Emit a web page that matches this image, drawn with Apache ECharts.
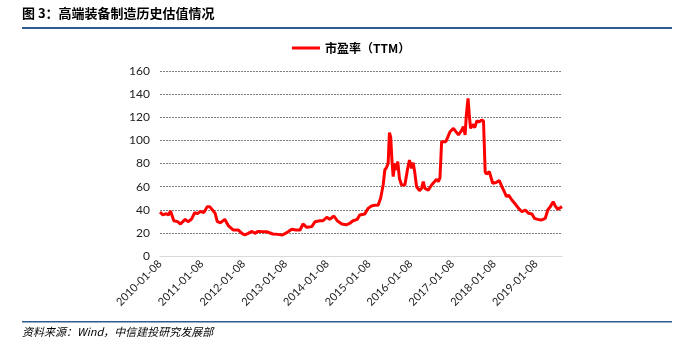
<!DOCTYPE html>
<html>
<head>
<meta charset="utf-8">
<script src="https://cdn.jsdelivr.net/npm/echarts@6/dist/echarts.min.js"></script>
<style>
html,body{margin:0;padding:0;background:#fff;}
#chart{width:696px;height:346px;}
</style>
</head>
<body>
<div id="chart"></div>
<script>
// Time in decimal years, PE (TTM) values
const times = [
  2010.02,2010.03,2010.09,2010.17,2010.22,2010.27,2010.35,2010.44,2010.51,2010.62,
  2010.69,2010.77,2010.85,2010.91,2010.99,2011.07,2011.15,2011.21,2011.29,2011.34,
  2011.39,2011.47,2011.57,2011.66,2011.77,2011.89,2011.98,2012.05,2012.13,2012.22,
  2012.29,2012.37,2012.49,2012.57,2012.61,2012.72,2012.84,2012.95,2013.05,2013.17,
  2013.27,2013.37,2013.44,2013.53,2013.65,2013.73,2013.84,2013.92,2014.01,2014.08,
  2014.18,2014.26,2014.37,2014.47,2014.56,2014.64,2014.74,2014.80,2014.92,2015.00,
  2015.08,2015.16,2015.24,2015.30,2015.36,2015.40,2015.44,2015.48,2015.51,2015.54,
  2015.57,2015.60,2015.64,2015.67,2015.71,2015.75,2015.80,2015.88,2015.94,2015.99,
  2016.04,2016.08,2016.12,2016.16,2016.23,2016.28,2016.32,2016.36,2016.44,2016.52,
  2016.56,2016.64,2016.68,2016.72,2016.76,2016.80,2016.86,2016.91,2016.96,2017.04,
  2017.10,2017.16,2017.23,2017.28,2017.32,2017.35,2017.39,2017.42,2017.45,2017.50,
  2017.55,2017.60,2017.66,2017.71,2017.76,2017.80,2017.83,2017.90,2017.98,2018.06,
  2018.14,2018.20,2018.26,2018.31,2018.36,2018.44,2018.52,2018.60,2018.68,2018.76,
  2018.84,2018.92,2018.98,2019.06,2019.14,2019.24,2019.30,2019.36,2019.43,2019.48,
  2019.54,2019.58,2019.64
];
const peValues = [
  38,38.3,35.5,36.6,35.5,39,30.5,29.7,27.7,31.7,
  29.7,31.7,37.5,36.6,38.6,37.5,42.7,42.7,39.2,36.9,
  29.7,28.8,31.7,26,22.5,22.5,19.6,18.2,19.6,21.3,
  19.6,21.3,21,21,19.6,19,18.7,18.2,20.2,23.1,
  22.5,22.5,27.7,24.8,25.4,29.7,30.5,30.5,33.5,31.7,
  34.6,30.5,27.7,27,28.3,30.5,31.7,35.5,36.3,41.2,
  43.2,44,44,50,61.4,74.4,76.5,80,106.7,103,
  83,68.6,80,74.4,81.6,67,61.4,61.4,74.4,83,
  75.8,80.7,71.5,60,56.5,58.5,64.3,58.5,57,61.4,
  60,66.3,64.3,67.5,98.9,100,98.9,103,107.5,110.4,
  107.5,104.7,108.2,111.9,104.7,122,136.4,122,110.4,113.8,
  111,116.8,116,117.6,116.8,72.9,70.8,72.9,62.9,63.5,
  65.2,60,55.6,51.3,52.7,48.4,45,41.2,38.3,39.8,
  36.9,36.3,32.6,31.7,31.1,32.6,39.8,42.7,47,43.2,
  40.4,40.4,42.7
];
const tickLabels = ['2010-01-08','2011-01-08','2012-01-08','2013-01-08','2014-01-08',
  '2015-01-08','2016-01-08','2017-01-08','2018-01-08','2019-01-08'];
const seriesName = '市盈率（TTM）';
const titleText = '图 3：高端装备制造历史估值情况';
const sourceText = '资料来源：Wind，中信建投研究发展部';

function yearToTs(t){
  const y = Math.floor(t);
  return Date.UTC(y,0,1) + (t - y) * 365.25 * 86400000;
}
const seriesData = times.map((t,i)=>[yearToTs(t), peValues[i]]);
const tickTs = tickLabels.map(s=>Date.parse(s+'T00:00:00Z'));
function fmtDate(v){
  const d = new Date(v);
  const p = n => (n<10?'0':'')+n;
  return d.getUTCFullYear()+'-'+p(d.getUTCMonth()+1)+'-'+p(d.getUTCDate());
}

const chart = echarts.init(document.getElementById('chart'));
chart.setOption({
  animation:false,
  backgroundColor:'#fff',
  graphic:[
    {type:'text', left:22, top:7, style:{text:titleText, font:'bold 13px "Noto Sans CJK SC"', fill:'#000'}},
    {type:'rect', shape:{x:22,y:27,width:650,height:2}, style:{fill:'#2f5b93'}},
    {type:'rect', shape:{x:22,y:321,width:650,height:1.5}, style:{fill:'#2f5b93'}},
    {type:'text', left:22, top:326, style:{text:sourceText, font:'italic 11px "Noto Sans CJK SC"', fill:'#000'}}
  ],
  legend:{
    top:37, left:287,
    itemWidth:28, itemHeight:3,
    textStyle:{fontFamily:'"Noto Sans CJK SC"', fontWeight:'bold', fontSize:12, color:'#000'},
    data:[{name:seriesName, icon:'rect', itemStyle:{color:'#ff0000'}}],
    itemGap:4
  },
  grid:{left:160, right:134, top:71, bottom:90},
  xAxis:{
    type:'value',
    min:Math.min(tickTs[0], seriesData[0][0]),
    max:seriesData[seriesData.length-1][0],
    axisLine:{show:true, lineStyle:{color:'#d9d9d9', width:1}},
    axisTick:{show:false},
    splitLine:{show:false},
    axisLabel:{
      customValues:tickTs,
      rotate:45,
      fontFamily:'Lato',
      fontSize:11,
      color:'#222',
      margin:6,
      formatter:function(v){ return fmtDate(v); }
    }
  },
  yAxis:{
    type:'value', min:0, max:160, interval:20,
    axisLine:{show:false}, axisTick:{show:false},
    axisLabel:{fontFamily:'Lato', fontSize:12, color:'#222', margin:10},
    splitLine:{lineStyle:{color:'#7f7f7f', type:[2,1], width:1}}
  },
  series:[{
    name:seriesName,
    type:'line',
    data:seriesData,
    symbol:'none',
    lineStyle:{color:'#ff0000', width:3},
    itemStyle:{color:'#ff0000'}
  }]
});
</script>
</body>
</html>
